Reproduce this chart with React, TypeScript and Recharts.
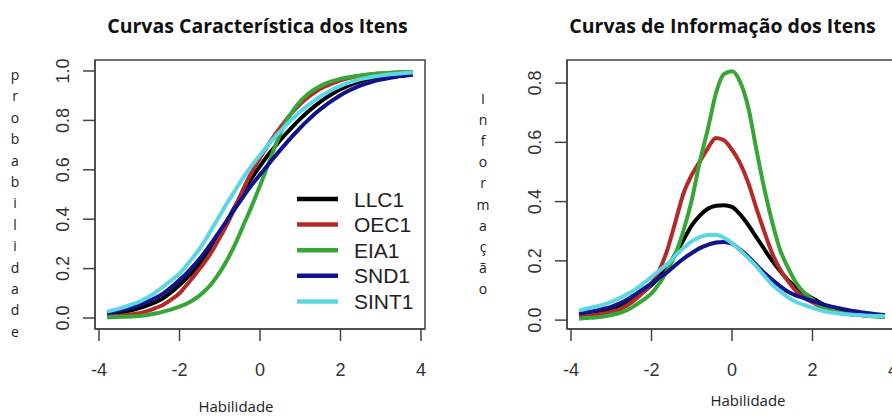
import React from "react";
import { Legend, Line, LineChart, ReferenceArea, XAxis, YAxis } from "recharts";

// habilidade (theta) grid
const theta = [
  -3.8, -3.6, -3.4, -3.2, -3.0, -2.8, -2.6, -2.4, -2.2, -2.0, -1.8, -1.6, -1.4, -1.2, -1.0, -0.8, -0.6, -0.4, -0.2,
  0.0, 0.2, 0.4, 0.6, 0.8, 1.0, 1.2, 1.4, 1.6, 1.8, 2.0, 2.2, 2.4, 2.6, 2.8, 3.0, 3.2, 3.4, 3.6, 3.8,
];

const seriesNames = ["LLC1", "OEC1", "EIA1", "SND1", "SINT1"];
const seriesColors = ["#000000", "#b42a28", "#37a637", "#12128c", "#5cd6e2"];

// curvas características (probabilidade)
const iccLLC1 = [
  0.013, 0.018, 0.024, 0.031, 0.04, 0.051, 0.064, 0.081, 0.105, 0.134, 0.165, 0.198, 0.24, 0.288, 0.34, 0.398, 0.458,
  0.516, 0.568, 0.615, 0.66, 0.7, 0.738, 0.773, 0.806, 0.836, 0.863, 0.887, 0.908, 0.926, 0.941, 0.953, 0.963, 0.971,
  0.978, 0.983, 0.987, 0.991, 0.994,
];
const iccOEC1 = [
  0.006, 0.008, 0.011, 0.015, 0.019, 0.028, 0.04, 0.054, 0.075, 0.1, 0.138, 0.178, 0.22, 0.268, 0.325, 0.385, 0.455,
  0.528, 0.592, 0.648, 0.7, 0.748, 0.792, 0.832, 0.866, 0.895, 0.918, 0.936, 0.95, 0.962, 0.971, 0.978, 0.983, 0.987,
  0.99, 0.992, 0.994, 0.995, 0.996,
];
const iccEIA1 = [
  0.003, 0.004, 0.005, 0.006, 0.008, 0.012, 0.018, 0.026, 0.035, 0.046, 0.06, 0.079, 0.105, 0.14, 0.185, 0.24, 0.305,
  0.38, 0.455, 0.535, 0.62, 0.705, 0.78, 0.835, 0.877, 0.908, 0.93, 0.947, 0.959, 0.968, 0.975, 0.98, 0.984, 0.988,
  0.99, 0.992, 0.994, 0.995, 0.996,
];
const iccSND1 = [
  0.02, 0.026, 0.033, 0.042, 0.053, 0.066, 0.081, 0.1, 0.125, 0.154, 0.185, 0.22, 0.26, 0.305, 0.352, 0.4, 0.448,
  0.495, 0.54, 0.58, 0.62, 0.66, 0.698, 0.735, 0.77, 0.802, 0.832, 0.858, 0.881, 0.902, 0.92, 0.935, 0.947, 0.957,
  0.965, 0.972, 0.977, 0.981, 0.985,
];
const iccSINT1 = [
  0.026, 0.034, 0.043, 0.054, 0.066, 0.083, 0.103, 0.128, 0.153, 0.18, 0.218, 0.258, 0.305, 0.36, 0.415, 0.47, 0.522,
  0.572, 0.618, 0.66, 0.7, 0.738, 0.772, 0.805, 0.835, 0.862, 0.886, 0.907, 0.925, 0.94, 0.952, 0.962, 0.97, 0.977,
  0.982, 0.986, 0.989, 0.992, 0.994,
];

// curvas de informação
const infLLC1 = [
  0.017, 0.02, 0.024, 0.028, 0.034, 0.045, 0.058, 0.076, 0.096, 0.118, 0.148, 0.18, 0.225, 0.272, 0.32, 0.353, 0.376,
  0.386, 0.388, 0.382, 0.357, 0.322, 0.281, 0.24, 0.2, 0.165, 0.134, 0.109, 0.09, 0.074, 0.058, 0.046, 0.037, 0.03,
  0.025, 0.021, 0.018, 0.015, 0.013,
];
const infOEC1 = [
  0.011, 0.014, 0.018, 0.022, 0.028, 0.036, 0.05, 0.07, 0.095, 0.124, 0.17, 0.24, 0.335, 0.43, 0.49, 0.535, 0.58,
  0.615, 0.607, 0.575, 0.53, 0.465, 0.38, 0.3, 0.225, 0.17, 0.13, 0.097, 0.074, 0.06, 0.046, 0.036, 0.028, 0.023,
  0.019, 0.017, 0.015, 0.013, 0.012,
];
const infEIA1 = [
  0.005, 0.007, 0.009, 0.012, 0.017, 0.024, 0.034, 0.05, 0.068, 0.09, 0.125, 0.17, 0.225, 0.305, 0.405, 0.535, 0.645,
  0.765, 0.83, 0.84, 0.805, 0.72, 0.58, 0.445, 0.33, 0.235, 0.175, 0.124, 0.092, 0.07, 0.048, 0.036, 0.028, 0.022,
  0.019, 0.016, 0.014, 0.012, 0.011,
];
const infSND1 = [
  0.022, 0.027, 0.032, 0.038, 0.045, 0.056, 0.07, 0.087, 0.105, 0.124, 0.144, 0.163, 0.186, 0.208, 0.226, 0.243,
  0.254, 0.262, 0.264, 0.258, 0.238, 0.215, 0.187, 0.16, 0.136, 0.114, 0.095, 0.083, 0.074, 0.065, 0.056, 0.048,
  0.042, 0.036, 0.031, 0.027, 0.023, 0.02, 0.017,
];
const infSINT1 = [
  0.033, 0.039, 0.045, 0.052, 0.062, 0.074, 0.088, 0.104, 0.124, 0.146, 0.168, 0.19, 0.218, 0.244, 0.266, 0.28, 0.287,
  0.288, 0.278, 0.26, 0.236, 0.21, 0.182, 0.15, 0.12, 0.097, 0.076, 0.061, 0.051, 0.042, 0.033, 0.027, 0.023, 0.02,
  0.018, 0.017, 0.015, 0.014, 0.013,
];

const xTicks = [-4, -2, 0, 2, 4];
const iccTicks = [0, 0.2, 0.4, 0.6, 0.8, 1.0];
const infTicks = [0, 0.2, 0.4, 0.6, 0.8];

const axisFont = "'Liberation Sans', Arial, Helvetica, sans-serif";
const labelFont = "'Open Sans', 'Noto Sans', sans-serif";

function buildRows(cols: number[][]) {
  return theta.map((t, i) => {
    const row: Record<string, number> = { theta: t };
    seriesNames.forEach((name, j) => {
      row[name] = cols[j][i];
    });
    return row;
  });
}

const iccRows = buildRows([iccLLC1, iccOEC1, iccEIA1, iccSND1, iccSINT1]);
const infRows = buildRows([infLLC1, infOEC1, infEIA1, infSND1, infSINT1]);

function RotTick(props: any) {
  const { x, y, payload } = props;
  return (
    <text
      x={x}
      y={y}
      transform={`rotate(-90 ${x} ${y})`}
      textAnchor="middle"
      fontSize={18}
      fill="#333"
      fontFamily={axisFont}
    >
      {Number(payload.value).toFixed(1)}
    </text>
  );
}

function LegendBox() {
  return (
    <svg width={140} height={135}>
      {seriesNames.map((name, i) => (
        <g key={name}>
          <line x1={7} x2={48} y1={19 + i * 25.6} y2={19 + i * 25.6} stroke={seriesColors[i]} strokeWidth={4.5} />
          <text x={64} y={26.5 + i * 25.6} fontSize={21} fill="#222" fontFamily={axisFont}>
            {name}
          </text>
        </g>
      ))}
    </svg>
  );
}

type PanelProps = {
  left: number;
  title: string;
  titleX: number;
  rows: Record<string, number>[];
  yDomain: [number, number];
  yTicks: number[];
  yAxisWidth: number;
  rightMargin: number;
  yName: string;
  yNameX: number;
  yNameTop: number;
  yNameStep: number;
  xNameX: number;
  xNameY: number;
  legend?: boolean;
};

function Panel(p: PanelProps) {
  return (
    <div style={{ position: "absolute", left: p.left, top: 0, width: 450, height: 416 }}>
      <LineChart width={450} height={416} data={p.rows} margin={{ top: 60, right: p.rightMargin, bottom: 37, left: 0 }}>
        <XAxis
          dataKey="theta"
          type="number"
          domain={[-4.1, 4.1]}
          allowDataOverflow
          ticks={xTicks}
          interval={0}
          height={50}
          tickSize={12}
          tickMargin={22}
          axisLine={{ stroke: "#444", strokeWidth: 1.5 }}
          tickLine={{ stroke: "#444", strokeWidth: 1.5 }}
          tick={{ fontSize: 18, fill: "#333", fontFamily: axisFont }}
        />
        <YAxis
          type="number"
          domain={p.yDomain}
          allowDataOverflow
          ticks={p.yTicks}
          interval={0}
          width={p.yAxisWidth}
          tickSize={12}
          tickMargin={14}
          axisLine={{ stroke: "#444", strokeWidth: 1.5 }}
          tickLine={{ stroke: "#444", strokeWidth: 1.5 }}
          tick={<RotTick />}
        />
        <ReferenceArea
          x1={-4.1}
          x2={4.1}
          y1={p.yDomain[0]}
          y2={p.yDomain[1]}
          fill="none"
          stroke="#444"
          strokeWidth={1.5}
        />
        {seriesNames.map((name, i) => (
          <Line
            key={name}
            dataKey={name}
            type="monotone"
            stroke={seriesColors[i]}
            strokeWidth={4}
            dot={false}
            isAnimationActive={false}
          />
        ))}
        {p.legend && (
          <Legend
            layout="vertical"
            align="center"
            verticalAlign="middle"
            content={() => <LegendBox />}
            wrapperStyle={{ left: 290, top: 180, width: 140, height: 135 }}
          />
        )}
      </LineChart>
      <svg width={450} height={416} style={{ position: "absolute", left: 0, top: 0, pointerEvents: "none" }}>
        <text x={p.titleX} y={32.5} textAnchor="middle" fontFamily={labelFont} fontWeight={700} fontSize={19.5} fill="#111">
          {p.title}
        </text>
        <text x={p.yNameX} y={p.yNameTop} textAnchor="middle" fontFamily={labelFont} fontSize={14} fill="#222">
          {Array.from(p.yName).map((ch, i) => (
            <tspan key={i} x={p.yNameX} dy={i === 0 ? 0 : p.yNameStep}>
              {ch}
            </tspan>
          ))}
        </text>
        <text x={p.xNameX} y={p.xNameY} textAnchor="middle" fontFamily={labelFont} fontSize={15} fill="#222">
          Habilidade
        </text>
      </svg>
    </div>
  );
}

export default function App() {
  return (
    <div
      style={{
        position: "absolute",
        left: 0,
        top: 0,
        width: 892,
        height: 416,
        overflow: "hidden",
        background: "#fff",
      }}
    >
      <Panel
        left={0}
        title="Curvas Característica dos Itens"
        titleX={257.5}
        rows={iccRows}
        yDomain={[-0.0445, 1.0445]}
        yTicks={iccTicks}
        yAxisWidth={95}
        rightMargin={25}
        yName="probabilidade"
        yNameX={15}
        yNameTop={80}
        yNameStep={21.4}
        xNameX={236}
        xNameY={412}
        legend
      />
      <Panel
        left={450}
        title="Curvas de Informação dos Itens"
        titleX={272.5}
        rows={infRows}
        yDomain={[-0.03, 0.878]}
        yTicks={infTicks}
        yAxisWidth={117}
        rightMargin={3}
        yName="Informação"
        yNameX={33}
        yNameTop={104}
        yNameStep={21.1}
        xNameX={298}
        xNameY={406}
      />
    </div>
  );
}
